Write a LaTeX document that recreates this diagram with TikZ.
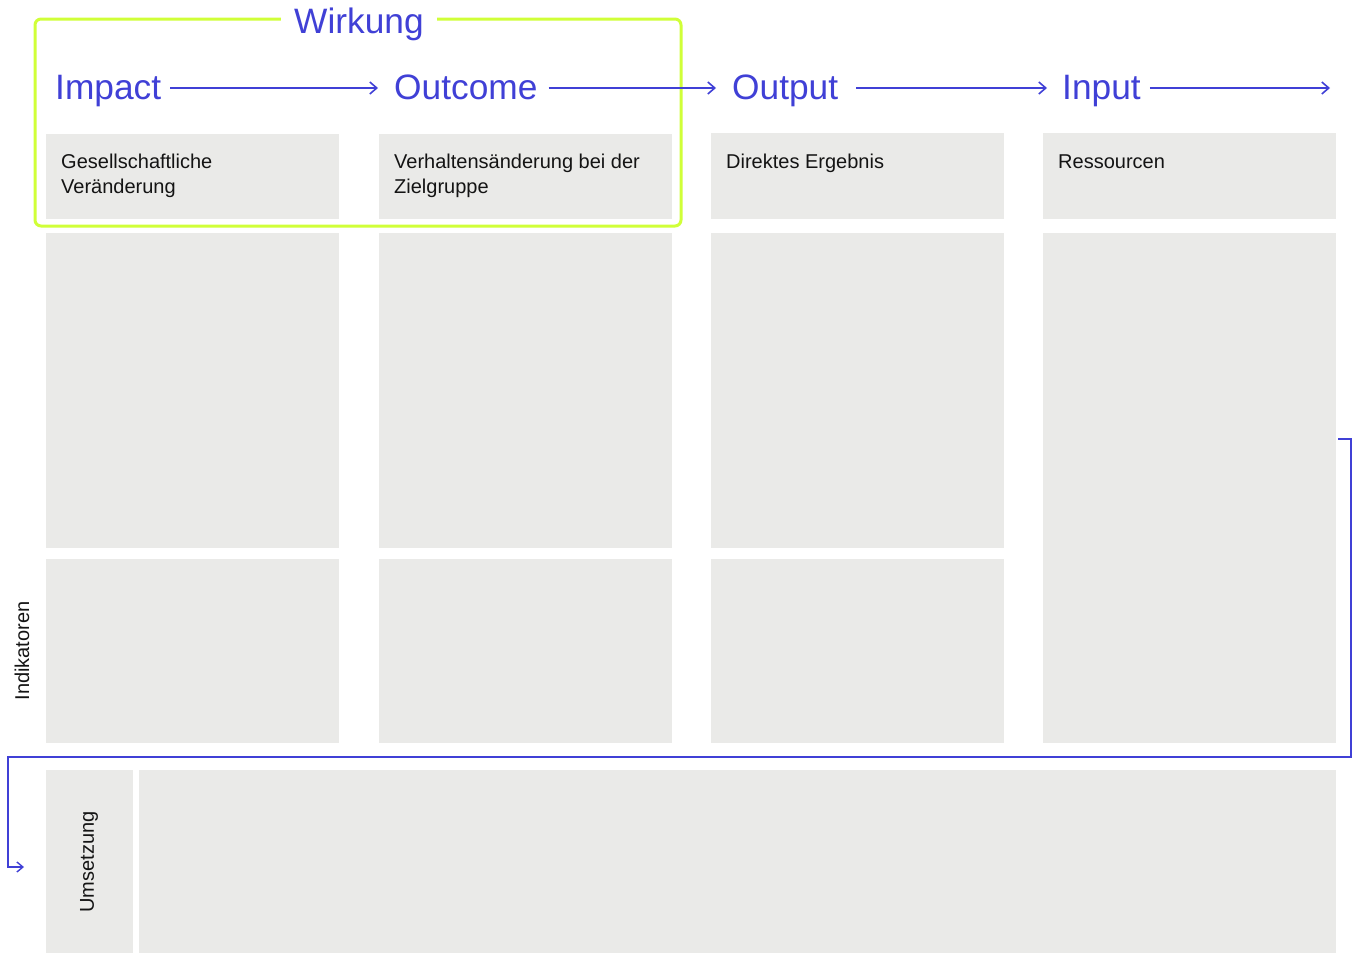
\documentclass[tikz,border=0pt]{standalone}
\usepackage{fontspec}
\setmainfont{Liberation Sans}
\usetikzlibrary{arrows.meta}
\definecolor{ink}{RGB}{64,64,214}
\definecolor{lime}{RGB}{208,255,56}
\definecolor{panelgray}{RGB}{234,234,232}
\definecolor{txt}{RGB}{20,20,20}

\begin{document}
\begin{tikzpicture}[x=1pt,y=-1pt,
  panel/.style={fill=panelgray, draw=none, inner sep=0pt, anchor=north west},
  head/.style={text=ink, font=\fontsize{35.3}{40}\selectfont, inner sep=0pt,
    text height=28pt, text depth=6pt, anchor=base west},
  boxtext/.style={text=txt, font=\fontsize{20}{25}\selectfont, inner sep=0pt,
    align=left, anchor=base west},
  sidelabel/.style={text=txt, font=\fontsize{20}{24}\selectfont, inner sep=0pt, rotate=90},
  flow/.style={draw=ink, line width=1.6pt, -{Straight Barb[length=7pt,width=12pt]}},
  loopline/.style={draw=ink, line width=1.4pt, -{Straight Barb[length=6pt,width=10pt]}},
  frame/.style={draw=lime, line width=3pt, rounded corners=6pt},
]
\useasboundingbox (0,0) rectangle (1355,953);

% grey panels: four columns, three rows
\node[panel, minimum width=293pt, minimum height=85pt]  (p11) at (46,134) {};
\node[panel, minimum width=293pt, minimum height=85pt]  (p21) at (379,134) {};
\node[panel, minimum width=293pt, minimum height=86pt]  (p31) at (711,133) {};
\node[panel, minimum width=293pt, minimum height=86pt]  (p41) at (1043,133) {};

\node[panel, minimum width=293pt, minimum height=315pt] (p12) at (46,233) {};
\node[panel, minimum width=293pt, minimum height=315pt] (p22) at (379,233) {};
\node[panel, minimum width=293pt, minimum height=315pt] (p32) at (711,233) {};
\node[panel, minimum width=293pt, minimum height=510pt] (p42) at (1043,233) {};

\node[panel, minimum width=293pt, minimum height=184pt] (p13) at (46,559) {};
\node[panel, minimum width=293pt, minimum height=184pt] (p23) at (379,559) {};
\node[panel, minimum width=293pt, minimum height=184pt] (p33) at (711,559) {};

% implementation row
\node[panel, minimum width=87pt, minimum height=183pt]   (pu) at (46,770) {};
\node[panel, minimum width=1197pt, minimum height=183pt] (pb) at (139,770) {};

% Wirkung frame
\draw[frame] (35,19) rectangle (681,226);
\node[head, fill=white, inner xsep=13pt] (wirkung) at (281,34) {Wirkung};

% column headings
\node[head] (impact)  at (55,99)   {Impact};
\node[head] (outcome) at (394,99)  {Outcome};
\node[head] (output)  at (732,99)  {Output};
\node[head] (input)   at (1062,99) {Input};
\coordinate (inputend) at (1330,88);

\draw[flow, shorten <=9pt, shorten >=16pt] (impact.east) -- (outcome.west);
\draw[flow, shorten <=11pt, shorten >=16pt] (outcome.east) -- (output.west);
\draw[flow, shorten <=18pt, shorten >=15pt] (output.east) -- (input.west);
\draw[flow, shorten <=9pt] (input.east) -- (inputend);

% panel texts (multi-line nodes sit on their last baseline)
\node[boxtext] (t1) at (61,193)   {Gesellschaftliche\\Veränderung};
\node[boxtext] (t2) at (394,193)  {Verhaltensänderung bei der\\Zielgruppe};
\node[boxtext] (t3) at (726,168)  {Direktes Ergebnis};
\node[boxtext] (t4) at (1058,168) {Ressourcen};

% side labels
\node[sidelabel] (indik)  at (22,651) {Indikatoren};
\node[sidelabel] (umsetz) at (89,862) {Umsetzung};

% feedback connector from the resources column back to implementation
\coordinate (loopstart) at (1338,439);
\coordinate (loopend) at (24,867);
\draw[loopline] (loopstart) -- (1351,439) -- (1351,757) -- (8,757) |- (loopend);
\end{tikzpicture}
\end{document}
